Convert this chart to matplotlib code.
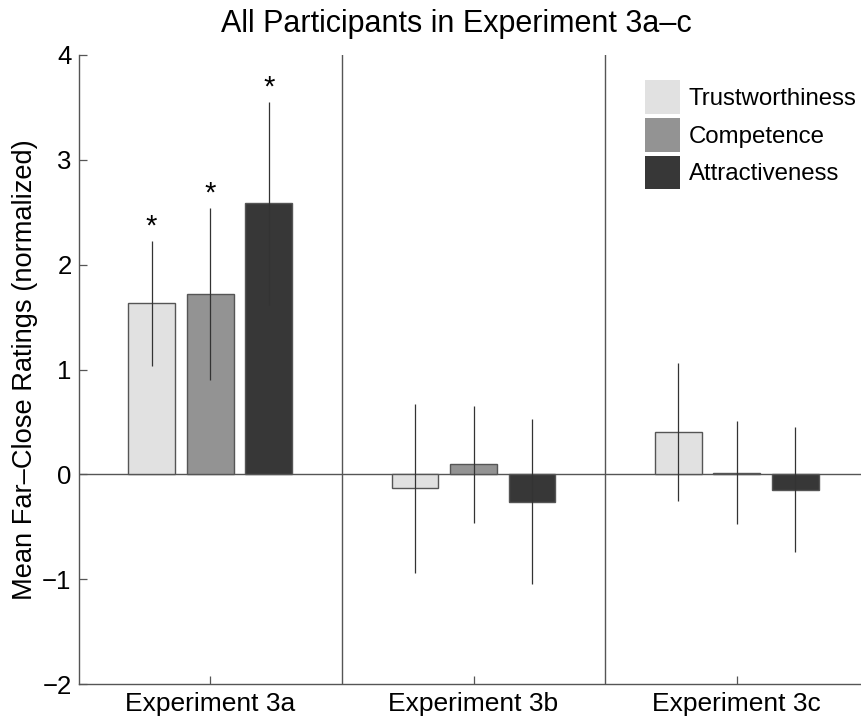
import matplotlib
matplotlib.use("Agg")
import matplotlib.pyplot as plt
import numpy as np
from matplotlib.patches import Patch

plt.rcParams['font.family'] = ['Liberation Sans', 'DejaVu Sans']

groups = ["Experiment 3a", "Experiment 3b", "Experiment 3c"]
series = ["Trustworthiness", "Competence", "Attractiveness"]
trust = [1.63, -0.135, 0.405]
comp = [1.72, 0.095, 0.015]
attr = [2.585, -0.26, -0.145]
trust_err = [0.60, 0.81, 0.66]
comp_err = [0.82, 0.56, 0.49]
attr_err = [0.97, 0.79, 0.60]
significant = [[True, True, True], [False, False, False], [False, False, False]]
colors = ["#e1e1e1", "#939393", "#373737"]

values = [trust, comp, attr]
errors = [trust_err, comp_err, attr_err]

fig = plt.figure(figsize=(8.61, 7.2), dpi=100)
ax = fig.add_axes([78.5/861, 36/720, 790/861, 629/720])

x = np.arange(1, len(groups) + 1)
n = len(series)
step = (n / (n + 1.5)) / n
width = 0.8 * step
for i in range(n):
    off = (i - (n - 1) / 2) * step
    ax.bar(x + off, values[i], width, color=colors[i], edgecolor="#555555",
           linewidth=1.0, zorder=2)
    ax.errorbar(x + off, values[i], yerr=errors[i], fmt='none', ecolor="#333333",
                elinewidth=0.9, capsize=0, zorder=3)
    for g in range(len(groups)):
        if significant[g][i]:
            ax.text(x[g] + off, values[i][g] + errors[i][g], "*",
                    ha='center', va='bottom', fontsize=21, color='black')

ax.axhline(0, color="#555555", linewidth=1.0, zorder=1)
for sep in [1.5, 2.5]:
    ax.axvline(sep, color="#555555", linewidth=1.0, zorder=1)

ax.set_xlim(0.5, 3.5)
ax.set_ylim(-2, 4)
ax.set_yticks([-2, -1, 0, 1, 2, 3, 4])
ax.set_yticklabels(["\u22122", "\u22121", "0", "1", "2", "3", "4"])
ax.set_xticks(x)
ax.set_xticklabels(groups)
ax.tick_params(direction='in', length=6, width=0.9, color="#555555", labelsize=18.5, pad=5)
ax.tick_params(axis='x', labelsize=19, pad=6)
for s in ['top', 'right']:
    ax.spines[s].set_visible(False)
for s in ['left', 'bottom']:
    ax.spines[s].set_color("#555555")
    ax.spines[s].set_linewidth(1.0)

ax.set_ylabel("Mean Far\u2013Close Ratings (normalized)", fontsize=19.6, labelpad=3)
fig.text(456/861, 1 - 24/720, "All Participants in Experiment 3a\u2013c",
         ha='center', va='center', fontsize=22)

handles = [Patch(facecolor=c, edgecolor='none') for c in colors]
leg = ax.legend(handles, series, loc='upper left',
                bbox_to_anchor=((645 - 78.5) / 790, 1 - 25 / 629),
                frameon=False, fontsize=17.3, handlelength=1.44, handleheight=1.775,
                handletextpad=0.38, labelspacing=0.18, borderaxespad=0, borderpad=0)

fig.savefig("out.png", dpi=100)
